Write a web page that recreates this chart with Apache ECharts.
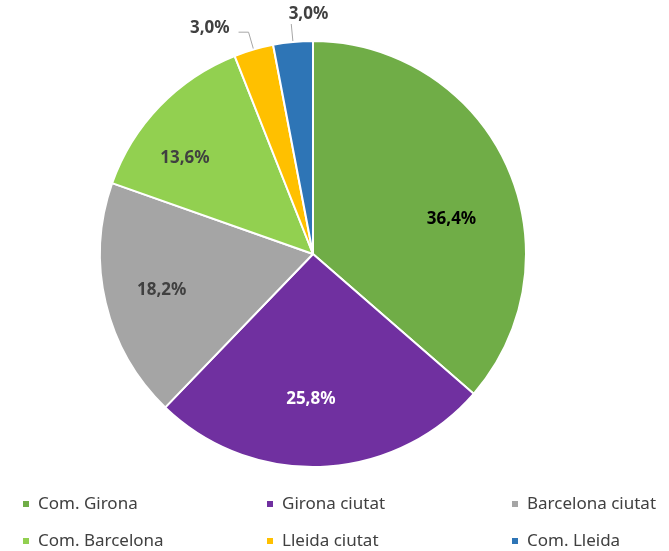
<!DOCTYPE html>
<html>
<head>
<meta charset="utf-8">
<script src="https://cdn.jsdelivr.net/npm/echarts@6/dist/echarts.min.js"></script>
<style>
  html, body { margin: 0; padding: 0; background: #fff; }
  #chart { width: 669px; height: 551px; }
</style>
</head>
<body>
<div id="chart"></div>
<script>
// categories and shares (%)
const categories = ['Com. Girona', 'Girona ciutat', 'Barcelona ciutat', 'Com. Barcelona', 'Lleida ciutat', 'Com. Lleida']
const shares = [36.4, 25.8, 18.2, 13.6, 3.0, 3.0]
const colors = ['#70AD47', '#7030A0', '#A5A5A5', '#92D050', '#FFC000', '#2E75B6']
const labelColors = ['#000000', '#ffffff', '#404040', '#404040', '#404040', '#404040']
const outsideLabels = [false, false, false, false, true, true]
// small label nudges (px) to match the Excel-style placement
const labelNudge = [[-3, 30], [-9, -10], [0, 0], [-16, 12], [-4, -4], [42, -10]]

const cx = 313
const cy = 254
const font = '"Noto Sans", "DejaVu Sans", sans-serif'

var myChart = echarts.init(document.getElementById('chart'))

// legend: 3 columns x 2 rows, one legend per item
const legendCols = [21, 265, 510]
const legendRows = [494, 531]
const legends = categories.map((name, i) => ({
  data: [name],
  left: legendCols[i % 3],
  top: legendRows[Math.floor(i / 3)],
  padding: 0,
  icon: 'rect',
  itemWidth: 8,
  itemHeight: 8,
  itemGap: 0,
  selectedMode: false,
  textStyle: {
    fontFamily: font,
    fontSize: 17,
    lineHeight: 20,
    color: '#404040',
    padding: [0, 0, 0, 3]
  }
}))

const pieData = categories.map((name, i) => {
  const item = {
    name: name,
    value: shares[i],
    itemStyle: { color: colors[i] },
    label: { color: labelColors[i] }
  }
  if (outsideLabels[i]) {
    item.label.position = 'outside'
    item.labelLine = {
      show: true,
      length: 18,
      length2: i === 5 ? 0 : 10,
      lineStyle: { color: '#A6A6A6', width: 1 }
    }
  }
  return item
})

myChart.setOption({
  animation: false,
  legend: legends,
  series: [
    {
      type: 'pie',
      center: [cx, cy],
      radius: [0, 213],
      startAngle: 90,
      clockwise: true,
      avoidLabelOverlap: false,
      itemStyle: { borderColor: '#ffffff', borderWidth: 2 },
      label: {
        position: 'inside',
        fontFamily: font,
        fontSize: 17,
        fontWeight: 'bold',
        formatter: p => p.value.toFixed(1).replace('.', ',') + '%'
      },
      labelLine: { show: false },
      labelLayout: function (params) {
        const i = params.dataIndex
        const r = params.labelRect
        const n = labelNudge[i]
        if (outsideLabels[i]) {
          return { dx: n[0], dy: n[1] }
        }
        // push inside labels further out from the centre
        const lx = r.x + r.width / 2
        const ly = r.y + r.height / 2
        const k = 0.42
        return { dx: (lx - cx) * k + n[0], dy: (ly - cy) * k + n[1] }
      },
      data: pieData
    }
  ]
})
</script>
</body>
</html>
